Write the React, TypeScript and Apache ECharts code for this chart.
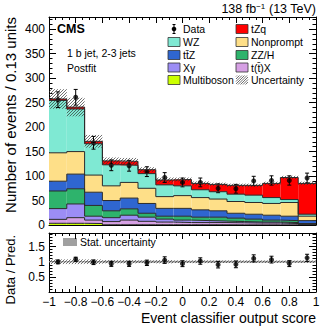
import React, { useEffect, useRef } from 'react';
import * as echarts from 'echarts';

// Bin edges of the event classifier output score
const BIN_EDGES = [-1, -0.8667, -0.7333, -0.6, -0.4667, -0.3333, -0.2, -0.0667, 0.0667, 0.2, 0.3333, 0.4667, 0.6, 0.7333, 0.8667, 1];

// Stacked background/signal contributions (events per bin), bottom to top
const MULTIBOSON = [3.5, 3.5, 3, 0.5, 0.5, 0.5, 0.5, 0.5, 0.5, 0.5, 0.3, 0.3, 0.3, 0.3, 0.2];
const TTX = [8, 11.5, 7, 6.5, 9.5, 7, 5.5, 4.5, 4.5, 4.5, 4.2, 3.7, 3.7, 2.7, 1.3];
const XGAMMA = [22, 28, 8, 8, 10, 8.5, 6, 5, 4, 3, 2.5, 2, 2, 2, 0.5];
const ZZH = [36, 31, 22, 14, 13, 8, 6, 8, 7, 8, 7, 6, 4, 4, 1];
const TTZ = [20, 30, 27, 21, 22, 20, 16, 16, 15, 13, 10, 10, 10, 9, 6];
const NONPROMPT = [58, 46, 35, 30, 32, 31, 24, 26, 25, 24, 24, 24, 24, 28, 9];
const WZ = [107, 87, 64, 43, 35, 30, 24, 20, 16, 15, 15, 15, 12, 6, 4];
const TZQ = [3, 4, 5, 8, 8, 8, 10, 13, 13, 15, 18, 20, 29, 45, 63];

// Observed data and uncertainties
const DATA = [256, 261, 168, 122, 121, 109, 97, 87, 87, 75, 74, 90, 91, 91, 96];
const DATA_ERR = [16, 16, 13, 11, 11, 10, 10, 9, 9, 9, 9, 9.5, 9.5, 9.5, 10];
const UNC = [20, 19, 13, 7, 7, 5, 5, 4, 4, 3.5, 3.5, 3.5, 3.5, 3.5, 3.5];
const STAT_UNC_REL = [0.02, 0.02, 0.025, 0.03, 0.03, 0.03, 0.03, 0.03, 0.03, 0.03, 0.03, 0.03, 0.03, 0.03, 0.03];

const X_TICKS_LABEL = ['−1', '−0.8', '−0.6', '−0.4', '−0.2', '0', '0.2', '0.4', '0.6', '0.8', '1'];

const FONT = 'Liberation Sans';

const LAYERS = [
  { name: 'Multiboson', values: MULTIBOSON, color: '#ccff00' },
  { name: 't(t̄)X', values: TTX, color: '#d6a0e4' },
  { name: 'Xγ', values: XGAMMA, color: '#9c8df5' },
  { name: 'ZZ/H', values: ZZH, color: '#2eb36c' },
  { name: 'tt̄Z', values: TTZ, color: '#2f66d0' },
  { name: 'Nonprompt', values: NONPROMPT, color: '#fedf88' },
  { name: 'WZ', values: WZ, color: '#7fe9d3' },
  { name: 'tZq', values: TZQ, color: '#ff0000' },
];

function hatchLines(x0: number, y0: number, x1: number, y1: number, s: number) {
  const out: number[][] = [];
  let c = Math.ceil((x0 + y0) / s) * s;
  for (; c <= x1 + y1; c += s) {
    const xa = Math.max(x0, c - y1);
    const xb = Math.min(x1, c - y0);
    if (xb > xa) out.push([xa, c - xa, xb, c - xb]);
  }
  return out;
}

export default function App() {
  const ref = useRef<HTMLDivElement>(null);
  useEffect(() => {
    if (!ref.current) return;
    const chart = echarts.init(ref.current, null, { renderer: 'svg' });
    const nb = DATA.length;
    const total: number[] = new Array(nb).fill(0);
    const series: any[] = [];

    const rectRender = (color: string) => (params: any, api: any) => {
      const p0 = api.coord([api.value(0), api.value(3)]);
      const p1 = api.coord([api.value(1), api.value(2)]);
      return {
        type: 'rect',
        shape: { x: p0[0], y: p0[1], width: p1[0] - p0[0], height: p1[1] - p0[1] },
        style: { fill: color },
      };
    };
    const hatchRender = (params: any, api: any) => {
      const p0 = api.coord([api.value(0), api.value(3)]);
      const p1 = api.coord([api.value(1), api.value(2)]);
      const lines = hatchLines(p0[0], p0[1], p1[0], p1[1], 3);
      return {
        type: 'group',
        children: lines.map((l) => ({
          type: 'line',
          shape: { x1: l[0], y1: l[1], x2: l[2], y2: l[3] },
          style: { stroke: '#333', lineWidth: 0.7 },
        })),
      };
    };
    const errRender = (params: any, api: any) => {
      const x = api.value(0), y = api.value(1), e = api.value(2);
      const pt = api.coord([x, y + e]);
      const pb = api.coord([x, y - e]);
      return {
        type: 'group',
        children: [
          { type: 'line', shape: { x1: pt[0], y1: pt[1], x2: pb[0], y2: pb[1] }, style: { stroke: '#000', lineWidth: 1 } },
          { type: 'line', shape: { x1: pt[0] - 2, y1: pt[1], x2: pt[0] + 2, y2: pt[1] }, style: { stroke: '#000', lineWidth: 1 } },
          { type: 'line', shape: { x1: pb[0] - 2, y1: pb[1], x2: pb[0] + 2, y2: pb[1] }, style: { stroke: '#000', lineWidth: 1 } },
        ],
      };
    };

    LAYERS.forEach((layer) => {
      const items = layer.values.map((v, i) => {
        const base = total[i];
        total[i] = base + v;
        return [BIN_EDGES[i], BIN_EDGES[i + 1], base, total[i]];
      });
      series.push({
        type: 'custom', name: layer.name, xAxisIndex: 0, yAxisIndex: 0,
        renderItem: rectRender(layer.color), data: items, silent: true,
      });
      const outline = total.map((t, i) => [BIN_EDGES[i], t]);
      outline.push([BIN_EDGES[nb], total[nb - 1]]);
      series.push({
        type: 'line', step: 'end', xAxisIndex: 0, yAxisIndex: 0, data: outline,
        symbol: 'none', lineStyle: { color: '#2a2a2a', width: 1 }, silent: true,
      });
    });

    // Uncertainty hatch on main panel
    series.push({
      type: 'custom', xAxisIndex: 0, yAxisIndex: 0, renderItem: hatchRender, silent: true,
      data: total.map((t, i) => [BIN_EDGES[i], BIN_EDGES[i + 1], t - UNC[i], t + UNC[i]]),
    });
    const centers = DATA.map((_, i) => (BIN_EDGES[i] + BIN_EDGES[i + 1]) / 2);
    series.push({
      type: 'custom', xAxisIndex: 0, yAxisIndex: 0, renderItem: errRender, silent: true,
      data: DATA.map((d, i) => [centers[i], d, DATA_ERR[i]]),
    });
    series.push({
      type: 'scatter', xAxisIndex: 0, yAxisIndex: 0, symbol: 'circle', symbolSize: 5,
      itemStyle: { color: '#000' }, data: DATA.map((d, i) => [centers[i], d]), silent: true,
    });

    // Ratio panel
    series.push({
      type: 'custom', xAxisIndex: 2, yAxisIndex: 2, renderItem: rectRender('#a0a0a0'), silent: true,
      data: total.map((t, i) => [BIN_EDGES[i], BIN_EDGES[i + 1], 1 - STAT_UNC_REL[i], 1 + STAT_UNC_REL[i]]),
    });
    series.push({
      type: 'custom', xAxisIndex: 2, yAxisIndex: 2, renderItem: hatchRender, silent: true,
      data: total.map((t, i) => [BIN_EDGES[i], BIN_EDGES[i + 1], 1 - UNC[i] / t, 1 + UNC[i] / t]),
    });
    series.push({
      type: 'custom', xAxisIndex: 2, yAxisIndex: 2, renderItem: errRender, silent: true,
      data: DATA.map((d, i) => [centers[i], d / total[i], DATA_ERR[i] / total[i]]),
    });
    series.push({
      type: 'scatter', xAxisIndex: 2, yAxisIndex: 2, symbol: 'circle', symbolSize: 5,
      itemStyle: { color: '#000' }, data: DATA.map((d, i) => [centers[i], d / total[i]]), silent: true,
    });

    const line = { show: true, onZero: false, lineStyle: { color: '#000', width: 1 } };
    const xBase = (grid: number, pos: string, labels: boolean) => ({
      type: 'value', gridIndex: grid, position: pos, min: -1, max: 1, interval: 0.2,
      axisLine: line, splitLine: { show: false },
      axisTick: { show: true, inside: true, length: 6, lineStyle: { color: '#000' } },
      minorTick: { show: true, splitNumber: 4, length: 3, lineStyle: { color: '#000' } },
      axisLabel: {
        show: labels, fontFamily: FONT, fontSize: 12, color: '#000', margin: 4,
        formatter: (v: number) => X_TICKS_LABEL[Math.round((v + 1) / 0.2)] ?? '',
      },
    });
    const yBase = (grid: number, pos: string, labels: boolean, max: number, interval: number, labelMax: number, minor: number) => ({
      type: 'value', gridIndex: grid, position: pos, min: 0, max, interval,
      axisLine: line, splitLine: { show: false },
      axisTick: { show: true, inside: true, length: 7, lineStyle: { color: '#000' } },
      minorTick: { show: true, splitNumber: minor, length: 3.5, lineStyle: { color: '#000' } },
      axisLabel: {
        show: labels, fontFamily: FONT, fontSize: 12, color: '#000', margin: 4,
        formatter: (v: number) => {
          if (v > labelMax + 1e-9) return '';
          if (grid === 1 && v === 0) return '{z|0}';
          return String(Math.round(v * 10) / 10);
        },
        rich: { z: { fontFamily: FONT, fontSize: 12, color: '#000', padding: [0, 0, 8, 0] } },
      },
    });

    const legendRows = [29, 42, 55, 67.5, 80];
    const col1 = [
      { name: 'WZ', color: '#7fe9d3' },
      { name: 'tt̄Z', color: '#2f66d0' },
      { name: 'Xγ', color: '#9c8df5' },
      { name: 'Multiboson', color: '#ccff00' },
    ];
    const col2 = [
      { name: 'tZq', color: '#ff0000' },
      { name: 'Nonprompt', color: '#fedf88' },
      { name: 'ZZ/H', color: '#2eb36c' },
      { name: 't(t̄)X', color: '#d6a0e4' },
    ];
    const txt = (x: number, y: number, text: string, size = 10.5, extra: any = {}) => ({
      type: 'text', x, y,
      style: { text, fontFamily: FONT, fontSize: size, fill: '#000', verticalAlign: 'middle', align: 'left', ...extra },
    });
    const graphics: any[] = [];
    const box = (x: number, y: number, color: string) => ({
      type: 'rect', shape: { x, y: y - 4.5, width: 12, height: 9 },
      style: { fill: color, stroke: '#333', lineWidth: 0.8 },
    });
    // Data legend
    graphics.push({ type: 'line', shape: { x1: 174, y1: legendRows[0] - 4.5, x2: 174, y2: legendRows[0] + 4.5 }, style: { stroke: '#000', lineWidth: 1 } });
    graphics.push({ type: 'line', shape: { x1: 172.5, y1: legendRows[0] - 4.5, x2: 175.5, y2: legendRows[0] - 4.5 }, style: { stroke: '#000', lineWidth: 1 } });
    graphics.push({ type: 'line', shape: { x1: 172.5, y1: legendRows[0] + 4.5, x2: 175.5, y2: legendRows[0] + 4.5 }, style: { stroke: '#000', lineWidth: 1 } });
    graphics.push({ type: 'circle', shape: { cx: 174, cy: legendRows[0], r: 2.3 }, style: { fill: '#000' } });
    graphics.push(txt(183, legendRows[0], 'Data'));
    col1.forEach((c, i) => {
      graphics.push(box(168, legendRows[i + 1], c.color));
      graphics.push(txt(183, legendRows[i + 1], c.name));
    });
    col2.forEach((c, i) => {
      graphics.push(box(236, legendRows[i], c.color));
      graphics.push(txt(251, legendRows[i], c.name));
    });
    // Uncertainty legend hatch
    const uy = legendRows[4];
    hatchLines(236, uy - 4.5, 248, uy + 4.5, 2.5).forEach((l) => {
      graphics.push({ type: 'line', shape: { x1: l[0], y1: l[1], x2: l[2], y2: l[3] }, style: { stroke: '#333', lineWidth: 0.7 } });
    });
    graphics.push(txt(251, uy, 'Uncertainty'));

    // Labels
    graphics.push(txt(57, 29, 'CMS', 12.5, { fontWeight: 'bold' }));
    graphics.push(txt(67, 53, '1 b jet, 2-3 jets', 10.5));
    graphics.push(txt(67, 68, 'Postfit', 10.5));
    graphics.push({
      type: 'text', x: 316, y: 9,
      style: {
        text: '138 fb{sup|−1} (13 TeV)', fontFamily: FONT, fontSize: 12.5, fill: '#000', align: 'right', verticalAlign: 'middle',
        rich: { sup: { fontFamily: FONT, fontSize: 8, verticalAlign: 'top', padding: [0, 0, 6, 0] } },
      },
    });
    graphics.push({
      type: 'text', x: 10, y: 17, rotation: Math.PI / 2,
      style: { text: 'Number of events / 0.13 units', fontFamily: FONT, fontSize: 15, fill: '#000', align: 'right', verticalAlign: 'middle' },
    });
    graphics.push({
      type: 'text', x: 10, y: 235, rotation: Math.PI / 2,
      style: { text: 'Data / Pred.', fontFamily: FONT, fontSize: 13, fill: '#000', align: 'right', verticalAlign: 'middle' },
    });
    graphics.push({
      type: 'text', x: 316, y: 318,
      style: { text: 'Event classifier output score', fontFamily: FONT, fontSize: 14, fill: '#000', align: 'right', verticalAlign: 'middle' },
    });
    graphics.push({ type: 'rect', shape: { x: 63, y: 238, width: 14, height: 8 }, style: { fill: '#a0a0a0' } });
    graphics.push(txt(80, 242, 'Stat. uncertainty', 10.5));

    chart.setOption({
      animation: false,
      grid: [
        { left: 49, right: 16, top: 17, height: 208 },
        { left: 49, right: 16, top: 233, height: 59 },
      ],
      xAxis: [xBase(0, 'bottom', false), xBase(0, 'top', false), xBase(1, 'bottom', true), xBase(1, 'top', false)],
      yAxis: [
        yBase(0, 'left', true, 425, 50, 400, 5),
        yBase(0, 'right', false, 425, 50, 400, 5),
        yBase(1, 'left', true, 1.95, 0.5, 1.5, 5),
        yBase(1, 'right', false, 1.95, 0.5, 1.5, 5),
      ],
      series,
      graphic: graphics,
    });
    return () => chart.dispose();
  }, []);
  return <div ref={ref} style={{ width: 332, height: 332, position: 'absolute', left: 0, top: 0 }} />;
}
